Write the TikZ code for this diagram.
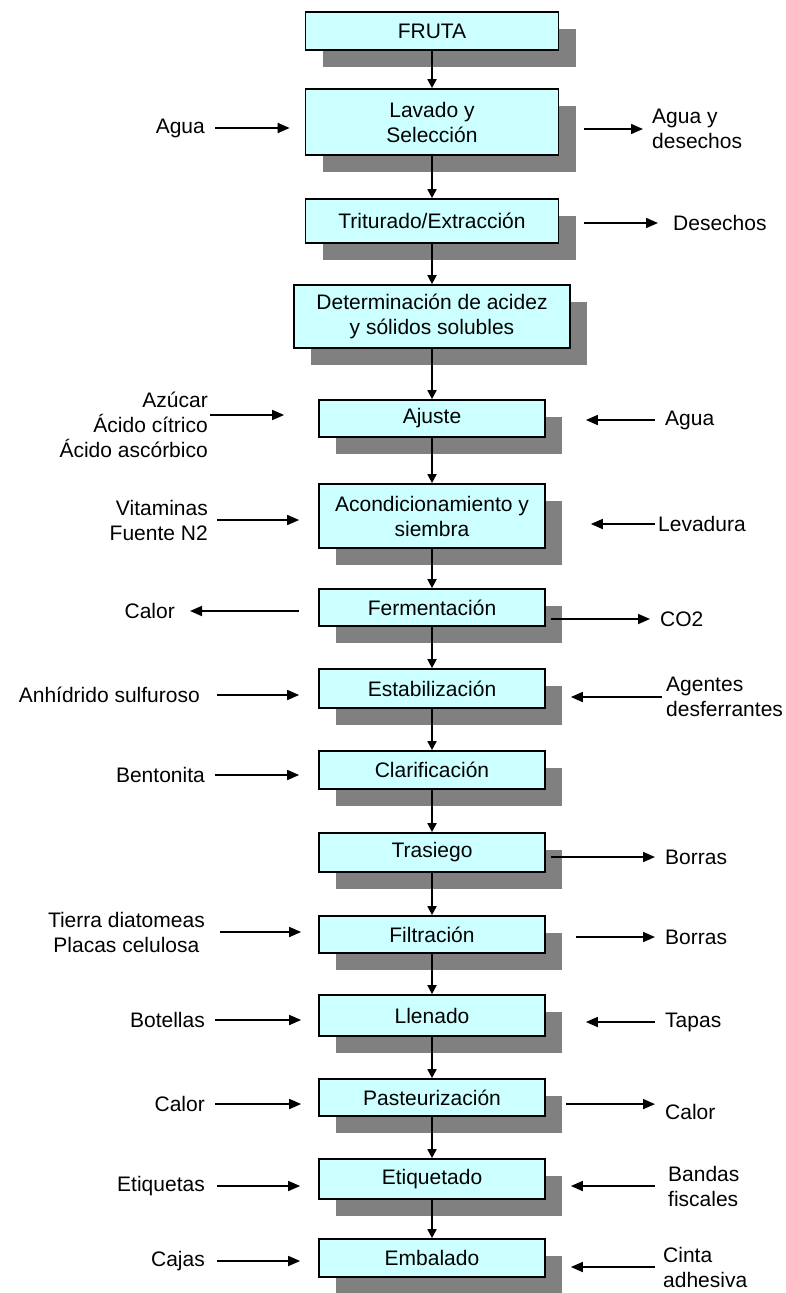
\documentclass[tikz,border=0pt]{standalone}
\usepackage{fontspec}
\setmainfont{Liberation Sans}
\usetikzlibrary{arrows.meta,shadows}
\definecolor{boxcyan}{HTML}{CCFFFF}
\definecolor{shadowgray}{HTML}{808080}

\begin{document}
\begin{tikzpicture}[x=1pt,y=-1pt,font=\fontsize{21}{25}\selectfont,
  proc/.style={draw,line width=1.7pt,fill=boxcyan,inner sep=0pt,align=center,minimum width=226pt,minimum height=38pt,
    drop shadow={shadow xshift=17pt,shadow yshift=-17pt,fill=shadowgray,opacity=1}},
  wide/.style={minimum width=253pt},
  dflow/.style={line width=1.7pt,-{Triangle[length=9pt,width=9pt]}},
  flow/.style={line width=1.7pt,-{Triangle[length=12pt,width=10pt]}},
  lbl/.style={inner sep=0pt}]

\useasboundingbox (0,0) rectangle (786,1293);

%process boxes
\node[proc,wide] (fruta) at (432,31) {FRUTA};
\node[proc,wide,minimum height=66pt] (lavado) at (432,122) {Lavado y\\Selección};
\node[proc,wide,minimum height=44pt] (trit) at (432,221) {Triturado/Extracción};
\node[proc,minimum width=276pt,minimum height=63pt] (determ) at (432,316.5) {Determinación de acidez\\y sólidos solubles};
\node[proc,minimum height=37pt] (ajuste) at (432,418.5) {Ajuste};
\node[proc,minimum height=64pt] (acond) at (432,516) {Acondicionamiento y\\siembra};
\node[proc,minimum height=37pt] (ferm) at (432,607.5) {Fermentación};
\node[proc,minimum height=39pt] (estab) at (432,688.5) {Estabilización};
\node[proc] (clarif) at (432,770) {Clarificación};
\node[proc,minimum height=39pt] (tras) at (432,852.5) {Trasiego};
\node[proc,minimum height=37pt] (filt) at (432,934.5) {Filtración};
\node[proc,minimum height=41pt] (llen) at (432,1015.5) {Llenado};
\node[proc,minimum height=37pt] (past) at (432,1097.5) {Pasteurización};
\node[proc,minimum height=40pt] (etiq) at (432,1179) {Etiquetado};
\node[proc] (embal) at (432,1258) {Embalado};

%main line
\draw[dflow] (fruta) -- (lavado);
\draw[dflow] (lavado) -- (trit);
\draw[dflow] (trit) -- (determ);
\draw[dflow] (determ) -- (ajuste);
\draw[dflow] (ajuste) -- (acond);
\draw[dflow] (acond) -- (ferm);
\draw[dflow] (ferm) -- (estab);
\draw[dflow] (estab) -- (clarif);
\draw[dflow] (clarif) -- (tras);
\draw[dflow] (tras) -- (filt);
\draw[dflow] (filt) -- (llen);
\draw[dflow] (llen) -- (past);
\draw[dflow] (past) -- (etiq);
\draw[dflow] (etiq) -- (embal);

%left side
\node[lbl,anchor=east] (agua1) at (205,128) {Agua};
\node[lbl,anchor=north east,align=right] (azucar) at (208,392) {Azúcar\\Ácido cítrico\\Ácido ascórbico};
\coordinate (azin) at ([yshift=-23pt]azucar.north east);
\node[lbl,anchor=east,align=right] (vitam) at (208,520) {Vitaminas\\Fuente N2};
\node[lbl,anchor=east] (calor1) at (175,611) {Calor};
\node[lbl,anchor=east] (anhid) at (200,695) {Anhídrido sulfuroso};
\node[lbl,anchor=east] (bento) at (205,775) {Bentonita};
\node[lbl,anchor=east,align=center] (tierra) at (205,932) {Tierra diatomeas\\Placas celulosa};
\node[lbl,anchor=east] (botellas) at (205,1020) {Botellas};
\node[lbl,anchor=east] (calor2) at (205,1104) {Calor};
\node[lbl,anchor=east] (etiquetas) at (205,1186) {Etiquetas};
\node[lbl,anchor=east] (cajas) at (205,1261) {Cajas};

\draw[flow,shorten <=10pt,shorten >=15pt] (agua1.east) -- (agua1.east -| lavado.west);
\draw[flow,shorten <=2pt,shorten >=34pt] (azin) -- (azin -| ajuste.west);
\draw[flow,shorten <=9pt,shorten >=19pt] (vitam.east) -- (vitam.east -| acond.west);
\draw[flow,shorten <=19pt,shorten >=15pt] (calor1.east -| ferm.west) -- (calor1.east);
\draw[flow,shorten <=17pt,shorten >=19pt] (anhid.east) -- (anhid.east -| estab.west);
\draw[flow,shorten <=10pt,shorten >=19pt] (bento.east) -- (bento.east -| clarif.west);
\draw[flow,shorten <=15pt,shorten >=17pt] (tierra.east) -- (tierra.east -| filt.west);
\draw[flow,shorten <=10pt,shorten >=17pt] (botellas.east) -- (botellas.east -| llen.west);
\draw[flow,shorten <=10pt,shorten >=17pt] (calor2.east) -- (calor2.east -| past.west);
\draw[flow,shorten <=12pt,shorten >=18pt] (etiquetas.east) -- (etiquetas.east -| etiq.west);
\draw[flow,shorten <=12pt,shorten >=18pt] (cajas.east) -- (cajas.east -| embal.west);

%right side
\node[lbl,anchor=west,align=left] (desech1) at (652,129) {Agua y\\desechos};
\node[lbl,anchor=west] (desech2) at (673,223) {Desechos};
\node[lbl,anchor=west] (agua2) at (665,420) {Agua};
\node[lbl,anchor=west] (levad) at (658,524) {Levadura};
\node[lbl,anchor=west] (co2) at (660,619) {CO2};
\node[lbl,anchor=west,align=left] (agent) at (666,697) {Agentes\\desferrantes};
\node[lbl,anchor=west] (borras1) at (665,857) {Borras};
\node[lbl,anchor=west] (borras2) at (665,937) {Borras};
\node[lbl,anchor=west] (tapas) at (665,1022) {Tapas};
\node[lbl,anchor=west] (calor3) at (665,1112) {Calor};
\node[lbl,anchor=west,align=left] (bandas) at (668,1186) {Bandas\\fiscales};
\node[lbl,anchor=west,align=left] (cinta) at (663,1267) {Cinta\\adhesiva};

\draw[flow,shorten <=25pt,shorten >=9pt] (desech1.west -| lavado.east) -- (desech1.west);
\draw[flow,shorten <=25pt,shorten >=15pt] (desech2.west -| trit.east) -- (desech2.west);
\draw[flow,shorten <=10pt,shorten >=40pt] (agua2.west) -- (agua2.west -| ajuste.east);
\draw[flow,shorten <=3pt,shorten >=45pt] (levad.west) -- (levad.west -| acond.east);
\draw[flow,shorten <=5pt,shorten >=10pt] (co2.west -| ferm.east) -- (co2.west);
\draw[flow,shorten <=4pt,shorten >=25pt] (agent.west) -- (agent.west -| estab.east);
\draw[flow,shorten <=5pt,shorten >=10pt] (borras1.west -| tras.east) -- (borras1.west);
\draw[flow,shorten <=30pt,shorten >=10pt] (borras2.west -| filt.east) -- (borras2.west);
\draw[flow,shorten <=10pt,shorten >=40pt] (tapas.west) -- (tapas.west -| llen.east);
\draw[flow,shorten <=20pt,shorten >=10pt] (calor3.north west -| past.east) -- (calor3.north west);
\draw[flow,shorten <=13pt,shorten >=25pt] (bandas.west) -- (bandas.west -| etiq.east);
\draw[flow,shorten <=8pt,shorten >=25pt] (cinta.west) -- (cinta.west -| embal.east);

\end{tikzpicture}
\end{document}
